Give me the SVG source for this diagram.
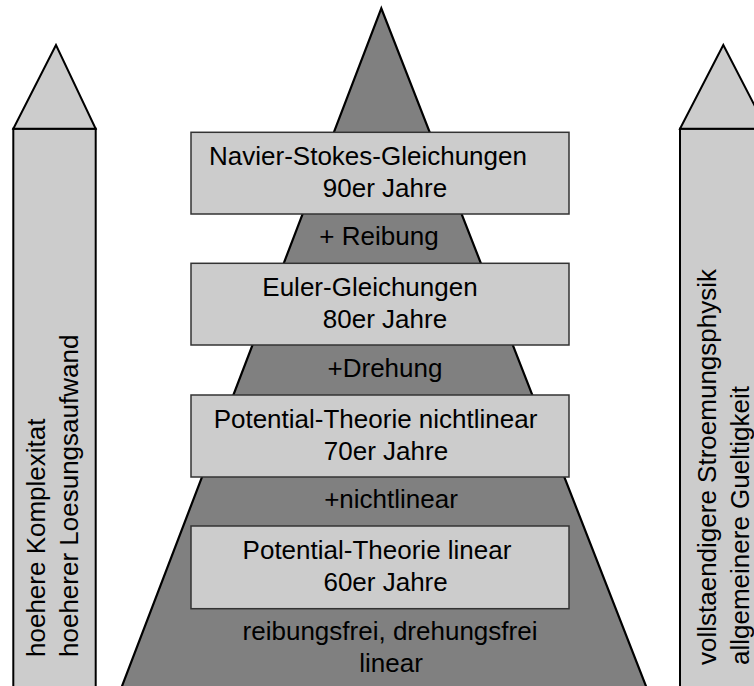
<svg xmlns="http://www.w3.org/2000/svg" width="754" height="686" viewBox="0 0 754 686">
<style>
text{font-family:"Liberation Sans",Arial,sans-serif;font-size:26px;fill:#000}
.m{text-anchor:middle}
.arrow{fill:#cccccc;stroke:#000;stroke-width:2}
.box{fill:#cccccc;stroke:#333;stroke-width:1.5}
.pyr{fill:#808080;stroke:#000;stroke-width:2.2}
</style>
<rect width="754" height="686" fill="#fff"/>
<g id="pyramid">
<polygon class="pyr" points="381.3,8.3 116.7,700 651.4,700"/>
<text class="m" x="379" y="245">+ Reibung</text>
<text class="m" x="385" y="377">+Drehung</text>
<text class="m" x="391" y="508">+nichtlinear</text>
<text class="m" x="390" y="640">reibungsfrei, drehungsfrei</text>
<text class="m" x="391" y="672">linear</text>
</g>
<g id="left-arrow">
<rect class="arrow" x="13.3" y="128.7" width="82.4" height="580"/>
<polygon class="arrow" points="56,45 13.3,128.7 95.7,128.7"/>
<text transform="translate(45,657) rotate(-90)">hoehere Komplexitat</text>
<text transform="translate(78,657) rotate(-90)">hoeherer Loesungsaufwand</text>
</g>
<g id="right-arrow">
<rect class="arrow" x="680" y="128.7" width="86.6" height="580"/>
<polygon class="arrow" points="723.3,45 680,128.7 766.6,128.7"/>
<text transform="translate(716,665) rotate(-90)">vollstaendigere Stroemungsphysik</text>
<text transform="translate(749,665) rotate(-90)">allgemeinere Gueltigkeit</text>
</g>
<g id="navier-stokes">
<rect class="box" x="191" y="132.3" width="378" height="81.7"/>
<text class="m" x="368" y="165">Navier-Stokes-Gleichungen</text>
<text class="m" x="385" y="197">90er Jahre</text>
</g>
<g id="euler">
<rect class="box" x="191" y="263.3" width="378" height="81.7"/>
<text class="m" x="370" y="296">Euler-Gleichungen</text>
<text class="m" x="385" y="328">80er Jahre</text>
</g>
<g id="potential-nichtlinear">
<rect class="box" x="191" y="395" width="378" height="82"/>
<text class="m" x="375.5" y="427.7">Potential-Theorie nichtlinear</text>
<text class="m" x="386" y="460">70er Jahre</text>
</g>
<g id="potential-linear">
<rect class="box" x="191" y="526" width="378" height="82.7"/>
<text class="m" x="377" y="558.5">Potential-Theorie linear</text>
<text class="m" x="385.6" y="590.7">60er Jahre</text>
</g>
<g id="connectors"/>
</svg>
